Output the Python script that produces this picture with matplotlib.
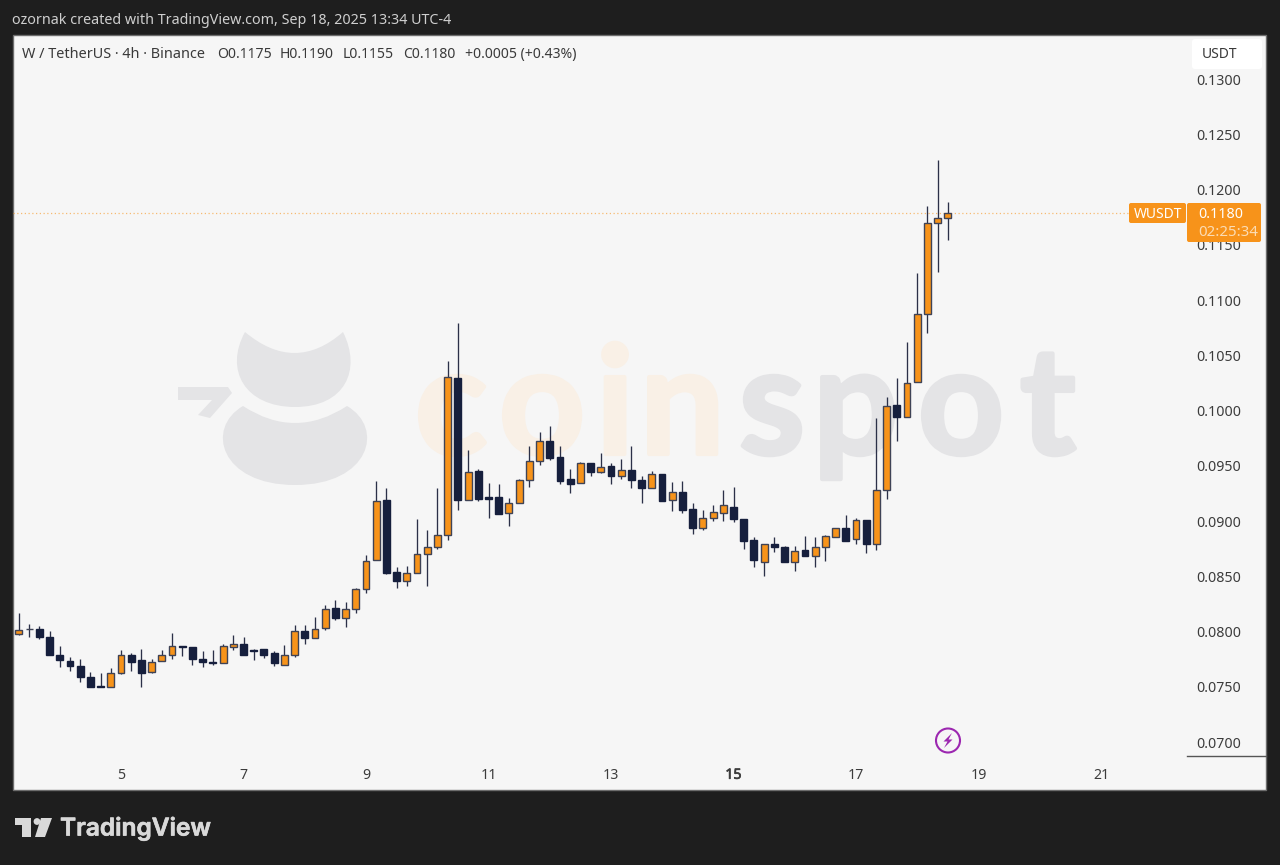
import numpy as np
import matplotlib
matplotlib.use('Agg')
import matplotlib.pyplot as plt
import matplotlib.patheffects as pe
from matplotlib.patches import Rectangle, PathPatch, Circle, Polygon, FancyBboxPatch
from matplotlib.path import Path
from matplotlib.transforms import ScaledTranslation

plt.rcParams['font.family'] = ['Noto Sans', 'DejaVu Sans']

# -------------------------- data (4h candles, price in USDT) --------------------------
opens = [0.0799, 0.0803, 0.0803, 0.0796, 0.0780, 0.0774, 0.0770, 0.0760, 0.0752, 0.0751,
         0.0763, 0.0780, 0.0775, 0.0764, 0.0774, 0.0780, 0.0788, 0.0787, 0.0776, 0.0773,
         0.0772, 0.0787, 0.0790, 0.0784, 0.0785, 0.0781, 0.0771, 0.0780, 0.0801, 0.0795,
         0.0804, 0.0822, 0.0813, 0.0821, 0.0839, 0.0866, 0.0920, 0.0855, 0.0847, 0.0854,
         0.0871, 0.0877, 0.0888, 0.1030, 0.0920, 0.0946, 0.0923, 0.0923, 0.0908, 0.0917,
         0.0938, 0.0955, 0.0973, 0.0959, 0.0939, 0.0935, 0.0953, 0.0945, 0.0951, 0.0942,
         0.0947, 0.0938, 0.0931, 0.0943, 0.0920, 0.0927, 0.0912, 0.0895, 0.0904, 0.0908,
         0.0914, 0.0903, 0.0884, 0.0864, 0.0880, 0.0877, 0.0864, 0.0875, 0.0869, 0.0877,
         0.0886, 0.0895, 0.0885, 0.0902, 0.0880, 0.0929, 0.1006, 0.0995, 0.1027, 0.1088,
         0.1171, 0.1175]
highs = [0.0818, 0.0808, 0.0806, 0.0801, 0.0788, 0.0778, 0.0776, 0.0764, 0.0763, 0.0768,
         0.0784, 0.0781, 0.0785, 0.0776, 0.0784, 0.0800, 0.0788, 0.0787, 0.0783, 0.0784,
         0.0790, 0.0798, 0.0796, 0.0785, 0.0785, 0.0783, 0.0789, 0.0807, 0.0807, 0.0814,
         0.0825, 0.0829, 0.0828, 0.0840, 0.0870, 0.0937, 0.0931, 0.0859, 0.0860, 0.0903,
         0.0893, 0.0931, 0.1046, 0.1080, 0.0965, 0.0948, 0.0935, 0.0934, 0.0922, 0.0939,
         0.0969, 0.0981, 0.0987, 0.0969, 0.0948, 0.0954, 0.0953, 0.0962, 0.0953, 0.0957,
         0.0969, 0.0942, 0.0946, 0.0943, 0.0936, 0.0937, 0.0917, 0.0911, 0.0915, 0.0929,
         0.0932, 0.0903, 0.0886, 0.0880, 0.0886, 0.0878, 0.0878, 0.0887, 0.0886, 0.0888,
         0.0895, 0.0906, 0.0904, 0.0902, 0.0994, 0.1013, 0.1030, 0.1063, 0.1125, 0.1186,
         0.1228, 0.1190]
lows = [0.0798, 0.0796, 0.0794, 0.0780, 0.0769, 0.0765, 0.0755, 0.0751, 0.0751, 0.0751,
        0.0762, 0.0765, 0.0751, 0.0763, 0.0774, 0.0776, 0.0779, 0.0771, 0.0769, 0.0771,
        0.0772, 0.0784, 0.0780, 0.0775, 0.0777, 0.0770, 0.0771, 0.0778, 0.0790, 0.0795,
        0.0802, 0.0811, 0.0805, 0.0818, 0.0836, 0.0866, 0.0853, 0.0840, 0.0842, 0.0854,
        0.0842, 0.0876, 0.0884, 0.0911, 0.0920, 0.0919, 0.0904, 0.0907, 0.0896, 0.0917,
        0.0932, 0.0952, 0.0956, 0.0934, 0.0926, 0.0935, 0.0942, 0.0944, 0.0934, 0.0939,
        0.0931, 0.0917, 0.0931, 0.0919, 0.0910, 0.0908, 0.0889, 0.0893, 0.0901, 0.0901,
        0.0900, 0.0876, 0.0859, 0.0851, 0.0873, 0.0864, 0.0856, 0.0869, 0.0859, 0.0865,
        0.0886, 0.0883, 0.0880, 0.0872, 0.0875, 0.0921, 0.0973, 0.0995, 0.1027, 0.1071,
        0.1126, 0.1155]
closes = [0.0802, 0.0803, 0.0796, 0.0780, 0.0775, 0.0770, 0.0760, 0.0751, 0.0751, 0.0763,
          0.0780, 0.0773, 0.0763, 0.0773, 0.0780, 0.0788, 0.0787, 0.0776, 0.0773, 0.0772,
          0.0788, 0.0790, 0.0780, 0.0783, 0.0780, 0.0772, 0.0780, 0.0801, 0.0795, 0.0803,
          0.0821, 0.0813, 0.0821, 0.0839, 0.0865, 0.0919, 0.0854, 0.0847, 0.0854, 0.0871,
          0.0877, 0.0888, 0.1031, 0.0920, 0.0945, 0.0921, 0.0921, 0.0907, 0.0917, 0.0938,
          0.0955, 0.0973, 0.0958, 0.0937, 0.0934, 0.0953, 0.0945, 0.0950, 0.0942, 0.0947,
          0.0938, 0.0931, 0.0943, 0.0919, 0.0927, 0.0911, 0.0895, 0.0904, 0.0909, 0.0915,
          0.0903, 0.0883, 0.0866, 0.0880, 0.0877, 0.0864, 0.0874, 0.0869, 0.0877, 0.0887,
          0.0895, 0.0883, 0.0902, 0.0880, 0.0929, 0.1005, 0.0995, 0.1026, 0.1088, 0.1171,
          0.1175, 0.1180]

first_day = 3 + 1 / 3          # first candle, in days of September
candles_per_day = 6

price_ticks = [0.0700, 0.0750, 0.0800, 0.0850, 0.0900, 0.0950, 0.1000,
               0.1050, 0.1100, 0.1150, 0.1200, 0.1250, 0.1300]
day_ticks = [5, 7, 9, 11, 13, 15, 17, 19, 21]
last_price = 0.1180

# -------------------------- colours --------------------------
BG = '#1e1e1e'
PANEL = '#f6f6f6'
ORANGE = '#f7931a'
NAVY = '#161f3d'
EDGE = '#3f4356'
WICK = '#2b3048'
TEXT = '#3a3a3a'

W, H = 1280, 865
fig = plt.figure(figsize=(W / 100, H / 100), dpi=100, facecolor=BG)

# pixel-coordinate layer under the chart (panel, watermark)
back = fig.add_axes([0, 0, 1, 1], zorder=0)
back.set_xlim(0, W)
back.set_ylim(H, 0)
back.axis('off')

back.add_patch(Rectangle((13, 35), 1253, 755, facecolor=PANEL, edgecolor='#6d6d6d', linewidth=1))

# coinspot watermark
GREY_W = '#e4e4e6'
TINT_W = '#f9f0e6'
M, C3, C4 = Path.MOVETO, Path.CURVE3, Path.CURVE4
top_blob = Path([(245, 332), (295, 374), (343, 332),
                 (362, 370), (345, 407), (295, 407),
                 (245, 407), (224, 370), (245, 332)],
                [M, C3, C3, C4, C4, C4, C4, C4, C4])
low_blob = Path([(243, 406), (295, 440), (347, 406),
                 (385, 428), (370, 485), (295, 485),
                 (220, 485), (205, 428), (243, 406)],
                [M, C3, C3, C4, C4, C4, C4, C4, C4])
back.add_patch(PathPatch(top_blob, facecolor=GREY_W, edgecolor='none'))
back.add_patch(PathPatch(low_blob, facecolor=GREY_W, edgecolor='none'))
back.add_patch(Polygon([(178, 387), (228, 387), (232, 393), (210, 418), (198, 415),
                        (212, 400), (178, 400)], closed=True, facecolor=GREY_W, edgecolor='none'))
# letters placed one by one, the stroke gives the heavy rounded look
wm_letters = ['c', 'o', 'i', 'n', 's', 'p', 'o', 't']
wm_x = [415, 499, 596, 640, 739, 813, 918, 1020]
wm_col = [TINT_W] * 4 + [GREY_W] * 4
for ch, wx, wc in zip(wm_letters, wm_x, wm_col):
    back.text(wx, 454, ch, fontsize=108, family='Lato', fontweight='bold', color=wc,
              ha='left', va='baseline',
              path_effects=[pe.withStroke(linewidth=3, foreground=wc)])

# -------------------------- price chart --------------------------
# axes covers exactly the panel, limits are chosen so ticks land where they do in the picture
ax = fig.add_axes([13 / W, 1 - 790 / H, 1253 / W, 755 / H], zorder=1)
ax.patch.set_alpha(0)
for s in ax.spines.values():
    s.set_visible(False)

px_per_price = 11050.0
px_per_day = 61.25
ax.set_ylim(0.13 - (790 - 80) / px_per_price, 0.13 + (80 - 35) / px_per_price)
ax.set_xlim(5 + (13 - 121) / px_per_day, 5 + (1266 - 121) / px_per_day)

o = np.array(opens)
h = np.array(highs)
l = np.array(lows)
c = np.array(closes)
x = first_day + np.arange(len(o)) / candles_per_day
up = c >= o

ax.vlines(x, l, h, color=WICK, linewidth=0.95, zorder=2)
ax.bar(x, np.abs(c - o), bottom=np.minimum(o, c), width=0.112,
       color=[ORANGE if u else NAVY for u in up],
       edgecolor=[EDGE if u else NAVY for u in up], linewidth=1.0, zorder=3)

ax.axhline(last_price, xmax=(1129 - 13) / 1253, color=ORANGE, linewidth=0.9, alpha=0.6,
           linestyle=(0, (1, 2)), zorder=1)

ax.set_yticks(price_ticks)
ax.set_yticklabels(['%.4f' % p for p in price_ticks])
ax.yaxis.tick_right()
ax.tick_params(axis='y', length=0, pad=-50, labelsize=10.2, labelcolor='#3c3c3c')
up_1px = ScaledTranslation(0, 1 / 100, fig.dpi_scale_trans)
for lab in ax.get_yticklabels():
    lab.set_ha('left')
    lab.set_transform(lab.get_transform() + up_1px)

ax.set_xticks(day_ticks)
ax.set_xticklabels([str(d) for d in day_ticks])
ax.tick_params(axis='x', length=0, pad=-16, labelsize=10.2, labelcolor='#3c3c3c')
for lab, d in zip(ax.get_xticklabels(), day_ticks):
    if d == 15:
        # this tick is bold on the original axis
        lab.set_path_effects([pe.withStroke(linewidth=0.5, foreground='#3c3c3c')])

# -------------------------- overlay: labels, boxes, logo --------------------------
top = fig.add_axes([0, 0, 1, 1], zorder=2)
top.set_xlim(0, W)
top.set_ylim(H, 0)
top.axis('off')

top.text(12, 24, 'ozornak created with TradingView.com, Sep 18, 2025 13:34 UTC-4',
         fontsize=10.3, color='#cfcfcf', ha='left', va='baseline')
top.text(22, 58, 'W / TetherUS · 4h · Binance', fontsize=10.4, color=TEXT, ha='left', va='baseline')
top.text(217, 58, 'O0.1175', fontsize=10.1, color=TEXT, ha='left', va='baseline')
top.text(280, 58, 'H0.1190', fontsize=10.1, color=TEXT, ha='left', va='baseline')
top.text(343, 58, 'L0.1155', fontsize=10.1, color=TEXT, ha='left', va='baseline')
top.text(403, 58, 'C0.1180', fontsize=10.1, color=TEXT, ha='left', va='baseline')
top.text(465, 58, '+0.0005 (+0.43%)', fontsize=10.1, color=TEXT, ha='left', va='baseline')

# currency button
top.add_patch(FancyBboxPatch((1192, 39), 70, 30, boxstyle='round,pad=0,rounding_size=3',
                             facecolor='white', edgecolor='none'))
top.text(1202, 54, 'USDT', fontsize=10, color=TEXT, ha='left', va='center')

# last price tags
top.add_patch(FancyBboxPatch((1129, 203), 57, 20, boxstyle='round,pad=0,rounding_size=2',
                             facecolor=ORANGE, edgecolor='none'))
top.add_patch(FancyBboxPatch((1187, 203), 74, 39, boxstyle='round,pad=0,rounding_size=2',
                             facecolor=ORANGE, edgecolor='none'))
top.text(1158.5, 214, 'WUSDT', fontsize=10, color='white', ha='center', va='center')
top.text(1198, 214, '0.1180', fontsize=10.2, color='white', ha='left', va='center')
top.text(1198, 233, '02:25:34', fontsize=10.8, color='#fbdcb4', ha='left', va='center')

# scale stub under the 0.0700 label
top.plot([1187, 1266], [756, 756], color='#555555', linewidth=1)

# lightning marker
PURPLE = '#9c27b0'
top.add_patch(Circle((948, 740.5), 12, facecolor='none', edgecolor=PURPLE, linewidth=1.5))
top.add_patch(Polygon([(952, 733), (943.5, 741.5), (947.5, 741.5), (944, 748),
                       (952.5, 739.5), (948.5, 739.5)], closed=True,
                      facecolor=PURPLE, edgecolor='none'))

# TradingView logo
LOGO = '#d9d9d9'
top.add_patch(Polygon([(15, 818), (31, 818), (31, 837), (22, 837), (22, 825), (15, 825)],
                      closed=True, facecolor=LOGO, edgecolor='none'))
top.add_patch(Circle((37, 821.5), 3.4, facecolor=LOGO, edgecolor='none'))
top.add_patch(Polygon([(41, 818), (52, 818), (45, 837), (35, 837)], closed=True,
                      facecolor=LOGO, edgecolor='none'))
top.text(60, 828, 'TradingView', fontsize=17.6, family='Inter', fontweight='semibold',
         color=LOGO, ha='left', va='center',
         path_effects=[pe.withStroke(linewidth=0.5, foreground=LOGO)])

fig.savefig('out.png', dpi=100, facecolor=BG)
